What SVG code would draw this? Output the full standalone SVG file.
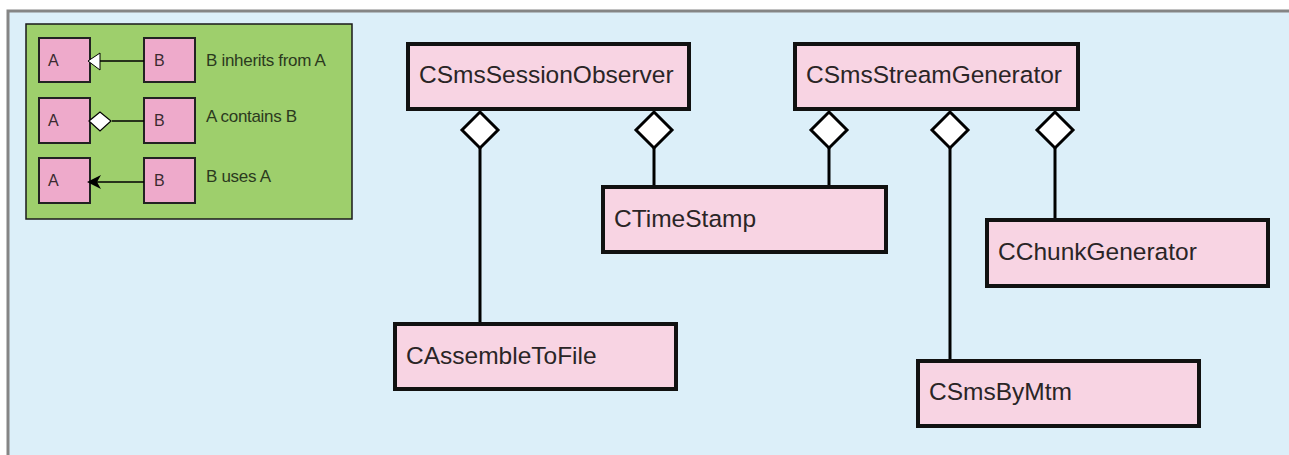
<svg xmlns="http://www.w3.org/2000/svg" width="1289" height="455" viewBox="0 0 1289 455">
<style>
.node rect{fill:#f8d4e3;stroke:#111;stroke-width:4}
.node text{font-family:"Liberation Sans",Arial,sans-serif;font-size:24.5px;fill:#2a2526}
.conn line{stroke:#000;stroke-width:3}
.dia{fill:#fff;stroke:#000;stroke-width:3;stroke-linejoin:miter}
.lg rect.box{fill:#eeaacb;stroke:#222;stroke-width:2}
.lg text{font-family:"Liberation Sans",Arial,sans-serif;fill:#2b3a1e}
.lg .l{font-size:16px;fill:#3a2a30}
.lg .d{font-size:17px;letter-spacing:-0.3px}
</style>
<rect x="0" y="0" width="1289" height="455" fill="#ffffff"/>
<rect x="8" y="11" width="1281" height="444" fill="#dceff9"/>
<path d="M8 455 V11 H1289" fill="none" stroke="#858585" stroke-width="3"/>
<g id="legend" class="lg">
  <rect x="26" y="24" width="326" height="195" fill="#9ecf6c" stroke="#1a1a1a" stroke-width="1.5"/>
  <rect class="box" x="39" y="38" width="51" height="44"/>
  <rect class="box" x="144" y="38" width="51" height="44"/>
  <line x1="100" y1="61" x2="144" y2="61" stroke="#000" stroke-width="1.5"/>
  <path d="M88 61 L100 53 L100 70 Z" fill="#fff" stroke="#000" stroke-width="1"/>
  <text class="l" x="48" y="66">A</text>
  <text class="l" x="154" y="66">B</text>
  <text class="d" x="206" y="66">B inherits from A</text>
  <rect class="box" x="39" y="98" width="51" height="45"/>
  <rect class="box" x="144" y="98" width="51" height="45"/>
  <line x1="112" y1="121" x2="144" y2="121" stroke="#000" stroke-width="1.5"/>
  <path d="M89 121 L100 112 L111 121 L100 131 Z" fill="#fff" stroke="#000" stroke-width="1.2"/>
  <text class="l" x="48" y="126">A</text>
  <text class="l" x="154" y="126">B</text>
  <text class="d" x="206" y="122">A contains B</text>
  <rect class="box" x="39" y="158" width="51" height="45"/>
  <rect class="box" x="144" y="158" width="51" height="45"/>
  <line x1="96" y1="182" x2="144" y2="182" stroke="#000" stroke-width="1.5"/>
  <path d="M87 182 L101 175 L97 182 L101 189 Z" fill="#000"/>
  <text class="l" x="48" y="186">A</text>
  <text class="l" x="154" y="186">B</text>
  <text class="d" x="206" y="182">B uses A</text>
</g>
<g id="connectors" class="conn">
  <line x1="480" y1="147" x2="480" y2="322"/>
  <line x1="654" y1="147" x2="654" y2="186"/>
  <line x1="829" y1="147" x2="829" y2="186"/>
  <line x1="950" y1="147" x2="950" y2="360"/>
  <line x1="1055" y1="147" x2="1055" y2="220"/>
  <path class="dia" d="M480 112 L498 130 L480 148 L462 130 Z"/>
  <path class="dia" d="M654 112 L672 130 L654 148 L636 130 Z"/>
  <path class="dia" d="M829 112 L847 130 L829 148 L811 130 Z"/>
  <path class="dia" d="M950 112 L968 130 L950 148 L932 130 Z"/>
  <path class="dia" d="M1055 112 L1073 130 L1055 148 L1037 130 Z"/>
</g>
<g id="CSmsSessionObserver" class="node"><rect x="408" y="44" width="281" height="65"/><text x="419" y="83">CSmsSessionObserver</text></g>
<g id="CSmsStreamGenerator" class="node"><rect x="795" y="44" width="283" height="65"/><text x="806" y="83">CSmsStreamGenerator</text></g>
<g id="CTimeStamp" class="node"><rect x="603" y="187" width="283" height="65"/><text x="614" y="227">CTimeStamp</text></g>
<g id="CChunkGenerator" class="node"><rect x="987" y="220" width="281" height="66"/><text x="998" y="260">CChunkGenerator</text></g>
<g id="CAssembleToFile" class="node"><rect x="395" y="324" width="281" height="65"/><text x="406" y="364">CAssembleToFile</text></g>
<g id="CSmsByMtm" class="node"><rect x="918" y="361" width="281" height="65"/><text x="929" y="400">CSmsByMtm</text></g>
</svg>
